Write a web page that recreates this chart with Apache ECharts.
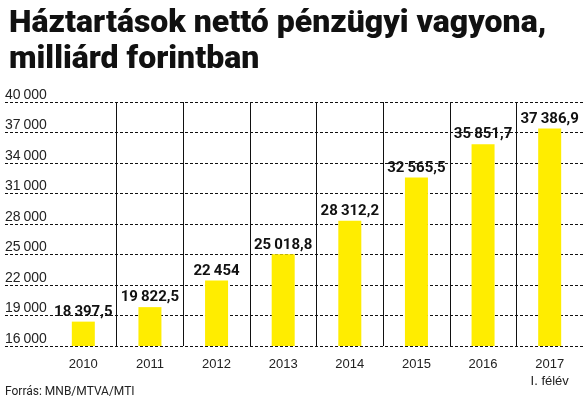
<!DOCTYPE html>
<html>
<head>
<meta charset="utf-8">
<script src="https://cdn.jsdelivr.net/npm/echarts@6/dist/echarts.min.js"></script>
<style>
  html, body { margin: 0; padding: 0; background: #fff; }
  #chart { width: 586px; height: 405px; }
</style>
</head>
<body>
<div id="chart"></div>
<script>
const years = ['2010', '2011', '2012', '2013', '2014', '2015', '2016', '2017\nI. félév']
const values = [18397.5, 19822.5, 22454, 25018.8, 28312.2, 32565.5, 35851.7, 37386.9]
const yMin = 16000
const yMax = 40000
const yStep = 3000

// magyar számformátum: szűk szóköz ezreselválasztó, tizedesvessző
function fmt(v) {
  const parts = String(v).split('.')
  const int = parts[0].replace(/\B(?=(\d{3})+(?!\d))/g, '\u2009')
  return parts[1] ? int + ',' + parts[1] : int
}

const chart = echarts.init(document.getElementById('chart'))

chart.setOption({
  animation: false,
  title: {
    text: 'Háztartások nettó pénzügyi vagyona,\nmilliárd forintban',
    left: 4,
    top: 1,
    textStyle: {
      fontFamily: 'Roboto',
      fontWeight: 900,
      fontSize: 32,
      lineHeight: 36,
      color: '#111',
    },
  },
  graphic: [
    {
      type: 'text',
      left: 5,
      top: 386,
      style: {
        text: 'Forrás: MNB/MTVA/MTI',
        font: '12px Roboto',
        fill: '#222',
      },
    },
  ],
  grid: [
    { left: 50, right: 3, top: 102, bottom: 59 },
    { left: 5, right: 3, top: 102, bottom: 59 },
  ],
  xAxis: [
    {
      type: 'category',
      gridIndex: 0,
      data: years,
      axisLine: { show: false },
      axisTick: { show: false },
      axisLabel: {
        margin: 10,
        fontFamily: 'Liberation Sans',
        fontSize: 13,
        lineHeight: 17,
        color: '#222',
      },
      splitLine: {
        show: true,
        showMinLine: false,
        showMaxLine: false,
        lineStyle: { color: '#111', width: 1 },
      },
    },
    { type: 'value', gridIndex: 1, show: false },
  ],
  yAxis: [
    {
      type: 'value',
      gridIndex: 0,
      min: yMin,
      max: yMax,
      interval: yStep,
      show: false,
    },
    {
      type: 'value',
      gridIndex: 1,
      min: yMin,
      max: yMax,
      interval: yStep,
      axisLine: { show: false },
      axisTick: { show: false },
      axisLabel: {
        inside: true,
        margin: 0,
        verticalAlign: 'bottom',
        fontFamily: 'Liberation Sans',
        fontSize: 14,
        color: '#222',
        formatter: v => fmt(v),
      },
      splitLine: {
        lineStyle: { color: '#111', type: [3, 2], width: 1 },
      },
    },
  ],
  series: [
    {
      type: 'bar',
      xAxisIndex: 0,
      yAxisIndex: 0,
      data: values,
      barWidth: 23,
      itemStyle: { color: '#FFED00' },
      label: {
        show: true,
        position: 'top',
        distance: 2,
        fontFamily: 'Roboto',
        fontWeight: 'bold',
        fontSize: 15,
        color: '#111',
        formatter: p => fmt(p.value),
      },
    },
  ],
})
</script>
</body>
</html>
